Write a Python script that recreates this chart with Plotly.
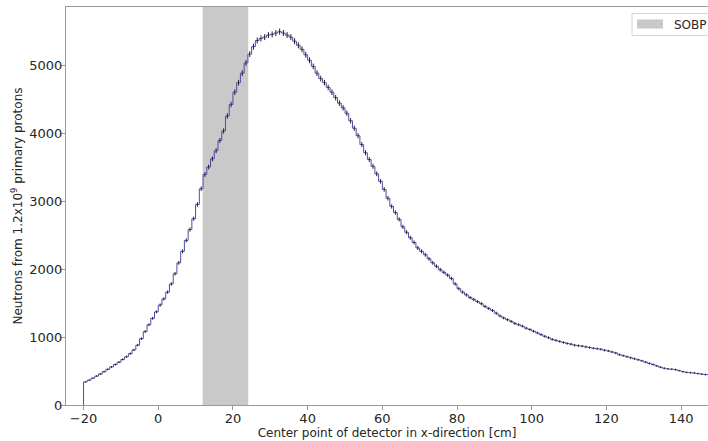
import numpy as np
import plotly.graph_objects as go

# ---- data ----
BIN_START = -20      # cm, left edge of first detector bin
BIN_WIDTH = 1        # cm
counts = [
    340, 365, 395, 425, 455, 490, 525, 560, 595, 630,
    670, 710, 755, 810, 880, 975, 1080, 1180, 1275, 1370,
    1470, 1560, 1660, 1780, 1930, 2090, 2260, 2420, 2580, 2740,
    2950, 3180, 3390, 3500, 3620, 3740, 3890, 4030, 4250, 4420,
    4600, 4740, 4880, 5030, 5160, 5270, 5360, 5390, 5410, 5440,
    5450, 5470, 5490, 5470, 5440, 5410, 5350, 5290, 5230, 5150,
    5070, 4980, 4880, 4800, 4740, 4670, 4600, 4520, 4440, 4370,
    4290, 4180, 4070, 3960, 3830, 3710, 3610, 3510, 3400, 3290,
    3170, 3040, 2920, 2830, 2730, 2620, 2540, 2460, 2390, 2310,
    2260, 2210, 2150, 2090, 2040, 1990, 1950, 1910, 1860, 1780,
    1710, 1660, 1620, 1580, 1550, 1520, 1490, 1450, 1420, 1390,
    1350, 1310, 1280, 1255, 1230, 1200, 1180, 1160, 1130, 1110,
    1085, 1060, 1035, 1010, 990, 965, 950, 935, 920, 905,
    895, 880, 872, 865, 855, 845, 835, 828, 820, 805,
    795, 780, 765, 740, 725, 710, 695, 680, 665, 650,
    630, 612, 595, 575, 555, 540, 530, 527, 520, 505,
    490, 480, 475, 470, 462, 455, 448, 445, 445, 440,
]
errors = [
    11, 11, 12, 12, 13, 13, 14, 14, 15, 15,
    16, 16, 17, 17, 18, 19, 20, 21, 21, 22,
    23, 24, 24, 25, 26, 27, 29, 30, 31, 31,
    33, 34, 35, 35, 36, 37, 37, 38, 39, 40,
    41, 41, 42, 43, 43, 44, 44, 44, 44, 44,
    44, 44, 44, 44, 44, 44, 44, 44, 43, 43,
    43, 42, 42, 42, 41, 41, 41, 40, 40, 40,
    39, 39, 38, 38, 37, 37, 36, 36, 35, 34,
    34, 33, 32, 32, 31, 31, 30, 30, 29, 29,
    29, 28, 28, 27, 27, 27, 26, 26, 26, 25,
    25, 24, 24, 24, 24, 23, 23, 23, 22, 22,
    22, 21, 21, 21, 21, 21, 21, 20, 20, 20,
    20, 19, 19, 19, 19, 19, 18, 18, 18, 18,
    18, 18, 18, 18, 18, 17, 17, 17, 17, 17,
    17, 17, 17, 16, 16, 16, 16, 16, 15, 15,
    15, 15, 15, 14, 14, 14, 14, 14, 14, 13,
    13, 13, 13, 13, 13, 13, 13, 13, 13, 13,
]
SOBP_START, SOBP_END = 11.9, 24.1
SOBP_LABEL = "SOBP"
x_ticks = [-20, 0, 20, 40, 60, 80, 100, 120, 140]
y_ticks = [0, 1000, 2000, 3000, 4000, 5000]

# ---- derived ----
n = len(counts)
edges = BIN_START + BIN_WIDTH * np.arange(n + 1)
centers = edges[:-1] + BIN_WIDTH / 2
step_x = np.concatenate([[edges[0]], edges])
step_y = np.concatenate([[0], counts, [counts[-1]]])

W, H = 708, 441
ML, MR, MT, MB = 66, 0, 7, 36
PW, PH = W - ML - MR, H - MT - MB


def px(xp):
    return (xp - ML) / PW


def py(yp):
    return 1 - (yp - MT) / PH


SOBP_COLOR = "#c9c9c9"

fig = go.Figure()
fig.add_trace(go.Scatter(
    x=step_x, y=step_y, mode="lines", line=dict(color="#4c4cac", width=1, shape="hv"),
    showlegend=False, hoverinfo="skip"))
fig.add_trace(go.Scatter(
    x=centers, y=counts, mode="markers", marker=dict(size=1, color="rgba(0,0,0,0)"),
    error_y=dict(type="data", array=errors, visible=True, color="#222222", thickness=1, width=0),
    showlegend=False))

fig.add_shape(type="rect", xref="x", yref="paper", x0=SOBP_START, x1=SOBP_END, y0=0, y1=1,
              fillcolor=SOBP_COLOR, line=dict(width=0), layer="below")

# legend (drawn by hand so that, like the reference, it runs off the right edge)
fig.add_shape(type="rect", xref="paper", yref="paper",
              x0=px(632), x1=px(716), y0=py(35.5), y1=py(13.5),
              fillcolor="white", line=dict(color="#d4d4d4", width=1), layer="above")
fig.add_shape(type="rect", xref="paper", yref="paper",
              x0=px(637), x1=px(663), y0=py(28.5), y1=py(19.5),
              fillcolor=SOBP_COLOR, line=dict(width=0), layer="above")
fig.add_annotation(x=px(672), y=py(24.5), xref="paper", yref="paper", text=SOBP_LABEL,
                   showarrow=False, xanchor="left", yanchor="middle",
                   font=dict(size=12, color="#262626"))

axis_col = "#999999"
font_col = "#262626"
fig.update_layout(
    width=W, height=H,
    margin=dict(l=ML, r=MR, t=MT, b=MB),
    paper_bgcolor="white", plot_bgcolor="white",
    font=dict(family="DejaVu Sans", size=13, color=font_col),
    showlegend=False,
    xaxis=dict(range=[-24.7, 147.2], tickvals=x_ticks, showgrid=False, zeroline=False,
               showline=True, linecolor=axis_col, linewidth=1, mirror=True,
               ticks="outside", ticklen=4, tickcolor=axis_col, ticklabelstandoff=-3,
               title=dict(text="Center point of detector in x-direction [cm]",
                          font=dict(size=12), standoff=2)),
    yaxis=dict(range=[0, 5853], tickvals=y_ticks, showgrid=False, zeroline=False,
               showline=True, linecolor=axis_col, linewidth=1,
               ticks="outside", ticklen=4, tickcolor=axis_col, ticklabelstandoff=-4,
               title=dict(text="Neutrons from 1.2x10<sup>9</sup> primary protons",
                          font=dict(size=12), standoff=4)),
)

fig.write_html("out.html")
